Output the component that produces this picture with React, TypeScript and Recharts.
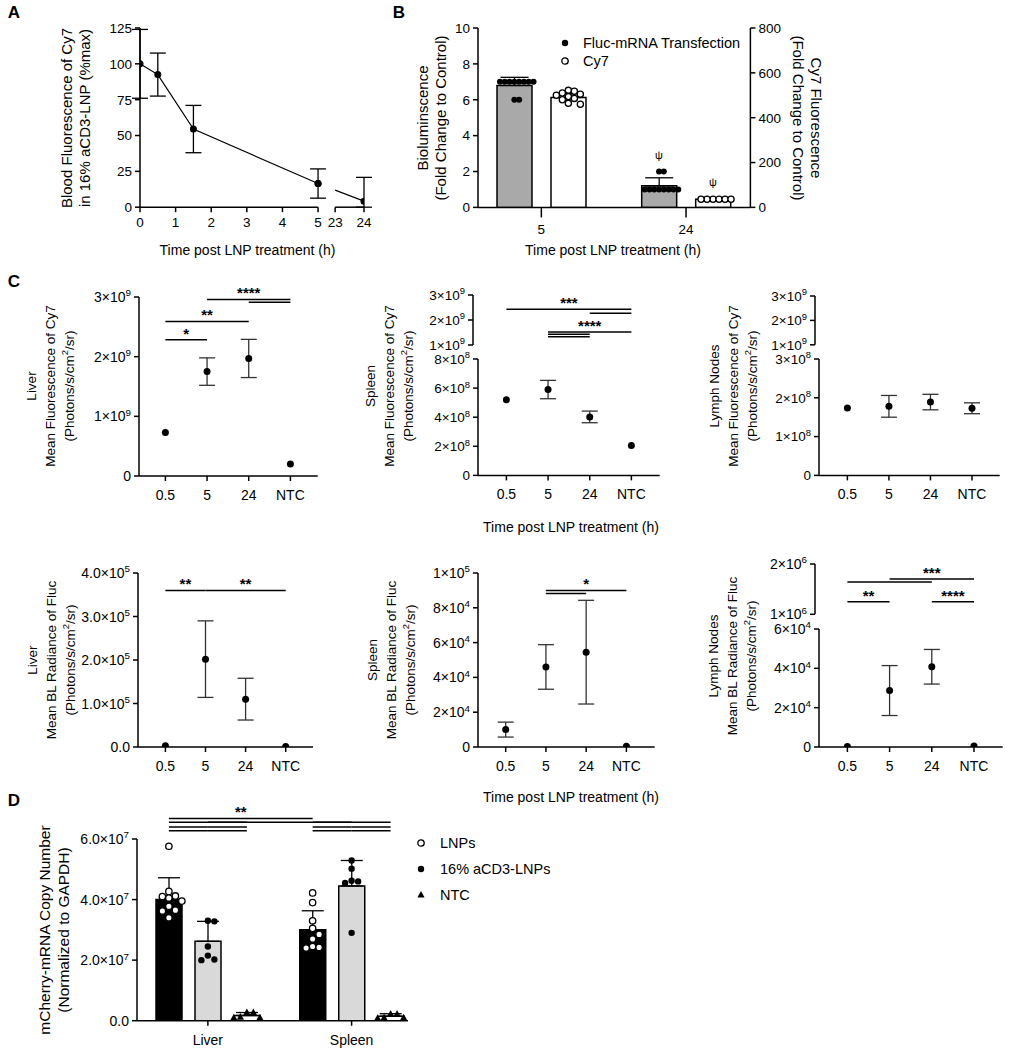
import React from "react";
import {
  LineChart, Line, ComposedChart, Bar, Scatter, XAxis, YAxis, ErrorBar, ReferenceLine,
} from "recharts";

const FONT = "'Liberation Sans', Arial, Helvetica, sans-serif";
const AX = { stroke: "#000", strokeWidth: 1.5 };
const PL = 84, PR = 14, PT = 44, PB = 40;

// ---- A: blood fluorescence over time
const aHours = [0, 0.5, 1.5, 5, 24];
const aMean = [100, 92.5, 54.5, 16.5, 4.2];
const aSD = [24, 15, 16.5, 10.2, 16.6];
const aXTicks = [0, 1, 2, 3, 4, 5, 23, 24];
const aYTicks = [0, 25, 50, 75, 100, 125];

// ---- B: bioluminescence vs Cy7
const bTimes = ["5", "24"];
const bFlucMean = [6.8, 1.2];
const bFlucSD = [0.45, 0.45];
const bCy7Mean = [490, 36];
const bCy7SD = [16, 3];
const bFlucPts = [[7, 7, 7, 7, 7, 7, 7, 7, 6, 6], [1, 1, 1, 1, 1, 1, 1, 1, 2, 2]];
const bCy7Pts = [[522, 518, 510, 505, 500, 494, 486, 480, 464, 460], [36, 36, 36, 36, 36, 36]];
const bSig = ["", "ψ"];
const bLeftTicks = [0, 2, 4, 6, 8, 10];
const bRightTicks = [0, 200, 400, 600, 800];

// ---- C: organ imaging
const cTimes = ["0.5", "5", "24", "NTC"];
const liverCy7 = [0.73e9, 1.75e9, 1.97e9, 0.2e9];
const liverCy7SD = [0, 0.23e9, 0.32e9, 0];
const spleenCy7 = [5.2e8, 5.9e8, 4.02e8, 2.06e8];
const spleenCy7SD = [0, 0.63e8, 0.4e8, 0];
const lymphCy7 = [1.74e8, 1.78e8, 1.89e8, 1.73e8];
const lymphCy7SD = [0, 0.28e8, 0.2e8, 0.14e8];
const liverFluc = [3e3, 2.02e5, 1.1e5, 1e3];
const liverFlucSD = [0, 0.88e5, 0.48e5, 0];
const spleenFluc = [1.0e4, 4.6e4, 5.45e4, 500];
const spleenFlucSD = [0.43e4, 1.28e4, 2.98e4, 0];
const lymphFluc = [300, 2.87e4, 4.08e4, 500];
const lymphFlucSD = [0, 1.27e4, 0.88e4, 0];

type Sig = [number, number, number, string]; // from, to, height, stars
const liverCy7Sig: Sig[] = [[0, 1, 2.285e9, "*"], [0, 2, 2.59e9, "**"], [1, 3, 2.96e9, "****"], [2, 3, 2.91e9, ""]];
const spleenCy7Sig: Sig[] = [[0, 3, 2.43e9, "***"], [2, 3, 2.27e9, ""], [1, 3, 1.52e9, "****"], [1, 2, 1.43e9, ""], [1, 2, 1.33e9, ""]];
const liverFlucSig: Sig[] = [[0, 1, 3.6e5, "**"], [1, 3, 3.6e5, "**"]];
const spleenFlucSig: Sig[] = [[1, 3, 9.0e4, "*"], [1, 2, 8.82e4, ""]];
const lymphFlucSig: Sig[] = [[1, 3, 1.7e6, "***"], [0, 2, 1.64e6, ""], [0, 1, 1.25e6, "**"], [2, 3, 1.25e6, "****"]];

// ---- D: mCherry copy number
const dOrgans = ["Liver", "Spleen"];
const dGroups = ["LNPs", "16% aCD3-LNPs", "NTC"];
const dLnpMean = [4.0e7, 3.0e7];
const dLnpSD = [0.72e7, 0.63e7];
const dCd3Mean = [2.62e7, 4.45e7];
const dCd3SD = [0.66e7, 0.84e7];
const dNtcMean = [0.17e7, 0.15e7];
const dNtcSD = [0.1e7, 0.08e7];
const dLnpPts = [
  [5.76e7, 4.27e7, 4.12e7, 4.1e7, 4.05e7, 3.95e7, 3.78e7, 3.65e7, 3.62e7, 3.4e7],
  [4.22e7, 3.9e7, 3.3e7, 3.05e7, 2.85e7, 2.7e7, 2.45e7, 2.42e7, 2.4e7],
];
const dCd3Pts = [
  [3.3e7, 3.28e7, 2.45e7, 2.15e7, 2.02e7, 2.0e7],
  [5.29e7, 5.02e7, 4.62e7, 4.6e7, 4.55e7, 2.9e7],
];
const dNtcPts = [
  [0.27e7, 0.27e7, 0.12e7, 0.1e7, 0.1e7],
  [0.22e7, 0.22e7, 0.1e7, 0.1e7, 0.08e7],
];
const dYTicks = [0, 2e7, 4e7, 6e7];
const dSigLevels = [6.68e7, 6.55e7, 6.4e7, 6.27e7];
// organA, groupA, organB, groupB, level, stars
const dSig: [number, number, number, number, number, string][] = [
  [0, 0, 1, 0, 0, "**"],
  [0, 0, 0, 2, 1, ""], [0, 1, 1, 1, 1, ""], [1, 0, 1, 2, 1, ""],
  [0, 0, 0, 1, 2, ""], [0, 1, 0, 2, 2, ""], [1, 0, 1, 1, 2, ""], [1, 1, 1, 2, 2, ""],
  [0, 0, 0, 1, 3, ""], [0, 1, 0, 2, 3, ""], [1, 0, 1, 1, 3, ""], [1, 1, 1, 2, 3, ""],
];

// spread dots sideways so they don't sit on top of each other
function swarm(vals: number[], pxPerUnit: number, gap: number): number[] {
  const placed: [number, number][] = [];
  return vals.map((v) => {
    const y = v * pxPerUnit;
    for (let k = 0; k < 60; k++) {
      const x = (k % 2 === 1 ? 1 : -1) * Math.ceil(k / 2) * gap;
      if (placed.every(([px, py]) => Math.hypot(px - x, py - y) >= gap - 0.01)) {
        placed.push([x, y]);
        return x;
      }
    }
    return 0;
  });
}

function YTick(props: any) {
  const { x, y, payload, textAnchor, dec, fs = 14 } = props;
  const v = Number(payload.value);
  let main: string;
  let exp: number | null = null;
  if (dec < 0) main = String(v);
  else if (v === 0) main = (0).toFixed(dec);
  else {
    exp = Math.floor(Math.log10(v) + 1e-9);
    main = (v / 10 ** exp).toFixed(dec) + "×10";
  }
  return (
    <text x={x} y={y} dy={fs * 0.36} textAnchor={textAnchor} fontSize={fs} fill="#000">
      {main}
      {exp !== null && <tspan dy={-fs * 0.4} fontSize={fs * 0.7}>{exp}</tspan>}
    </text>
  );
}

function Txt({ x, y, size = 14, bold = false, rotate = 0, lh = 18, children }: any) {
  return (
    <div style={{
      position: "absolute", left: x, top: y, transform: `translate(-50%,-50%) rotate(${rotate}deg)`,
      fontSize: size, fontWeight: bold ? 700 : 400, whiteSpace: "nowrap", textAlign: "center", lineHeight: `${lh}px`,
    }}>{children}</div>
  );
}

const sup2 = <sup style={{ fontSize: "0.7em", lineHeight: 0 }}>2</sup>;

function sigLabel(s: string) {
  return s ? { value: s, position: "top" as const, offset: 1, fill: "#000", fontSize: 15, fontWeight: 700 } : undefined;
}

// ---------------- A
function PanelA() {
  const A_BREAK = 5.48, A_RIGHT = 0.81;
  const toU = (h: number) => (h <= 5 ? h : A_BREAK + (h - 23) * A_RIGHT);
  const box = { x0: 139.5, x1: 363.5, yT: 28.3, yB: 207.5 };
  const end = toU(24);
  const pxPerU = (box.x1 - box.x0) / end;
  const pxPerY = (box.yB - box.yT) / 125;
  const dx = (end - 5) * pxPerU;
  const dy = (aMean[3] - aMean[4]) * pxPerY;
  const len = Math.hypot(dx, dy);
  const gap = (len * (A_BREAK - 5)) / (end - 5);
  const tickU = aXTicks.map(toU);
  const rows = aHours.map((h, i) => ({
    u: toU(h),
    early: h <= 5 ? aMean[i] : undefined,
    earlyErr: h <= 5 ? aSD[i] : undefined,
    late: h >= 5 ? aMean[i] : undefined,
    lateErr: h > 5 ? [Math.min(aSD[i], aMean[i]), aSD[i]] : undefined,
  }));
  const dot = { r: 3.5, fill: "#000", stroke: "#000", strokeWidth: 0 };
  return (
    <div style={{ position: "absolute", left: box.x0 - PL, top: box.yT - PT }}>
      <LineChart width={box.x1 - box.x0 + PL + PR} height={box.yB - box.yT + PT + PB} data={rows}
        margin={{ top: PT, right: PR, left: 0, bottom: 0 }}>
        <XAxis dataKey="u" type="number" domain={[0, end]} ticks={tickU} interval={0} allowDataOverflow
          tickFormatter={(u: number) => String(aXTicks[tickU.indexOf(u)])}
          axisLine={false} tickLine={AX} tickSize={5} tickMargin={5} height={PB} tick={{ fill: "#000", fontSize: 13.5 }} />
        <YAxis width={PL} domain={[0, 125]} ticks={aYTicks} interval={0} allowDataOverflow axisLine={AX} tickLine={AX}
          tickSize={5} tickMargin={3} tick={(p: any) => <YTick {...p} dec={-1} fs={13.5} />} />
        <ReferenceLine segment={[{ x: 0, y: 0 }, { x: 5, y: 0 }]} stroke="#000" strokeWidth={1.5} ifOverflow="visible" />
        <ReferenceLine segment={[{ x: toU(23), y: 0 }, { x: end, y: 0 }]} stroke="#000" strokeWidth={1.5} ifOverflow="visible" />
        <Line dataKey="early" stroke="#000" strokeWidth={1.2} dot={dot} activeDot={false} isAnimationActive={false}>
          <ErrorBar dataKey="earlyErr" width={8} stroke="#000" strokeWidth={1.3} />
        </Line>
        <Line dataKey="late" stroke="#000" strokeWidth={1.2} strokeDasharray={`0 ${gap} ${len + 10}`} dot={dot}
          activeDot={false} isAnimationActive={false}>
          <ErrorBar dataKey="lateErr" width={8} stroke="#000" strokeWidth={1.3} />
        </Line>
      </LineChart>
    </div>
  );
}

// ---------------- B
function PanelB() {
  const box = { x0: 478.3, x1: 750.7, yT: 28.3, yB: 207.7 };
  const RW = 64;
  const pad = { left: -9, right: -8 };
  const plotH = box.yB - box.yT;
  const pxPerU = (box.x1 - box.x0 - pad.left - pad.right) / 2;
  const barSize = 35, barGap = 19;
  const offU = (barSize + barGap) / 2 / pxPerU;
  const rows = bTimes.map((t, i) => ({
    t, fluc: bFlucMean[i], flucErr: [0, bFlucSD[i]], cy7: bCy7Mean[i], cy7Err: [0, bCy7SD[i]],
  }));
  const place = (sets: number[][], dir: number, pxPerUnit: number, gap: number) =>
    sets.flatMap((vals, i) => {
      const off = swarm(vals, pxPerUnit, gap);
      return vals.map((v, j) => ({ x: i + 1 + dir * offU + off[j] / pxPerU, y: v }));
    });
  const flucPts = place(bFlucPts, -1, plotH / 10, 4.8);
  const cy7Pts = place(bCy7Pts, 1, plotH / 800, 6);
  const flucPsi = bSig.flatMap((s, i) => (s ? [{ x: i + 1 - offU, y: Math.max(...bFlucPts[i], bFlucMean[i] + bFlucSD[i]), s }] : []));
  const cy7Psi = bSig.flatMap((s, i) => (s ? [{ x: i + 1 + offU, y: Math.max(...bCy7Pts[i], bCy7Mean[i] + bCy7SD[i]), s }] : []));
  const psi = (p: any) => (
    <text x={p.cx} y={p.cy - 13} textAnchor="middle" fontSize={11} style={{ fill: "#000" }} fontFamily={FONT}>{p.payload.s}</text>
  );
  return (
    <div style={{ position: "absolute", left: box.x0 - PL, top: box.yT - PT }}>
      <ComposedChart width={box.x1 - box.x0 + PL + RW + PR} height={box.yB - box.yT + PT + PB} data={rows}
        margin={{ top: PT, right: PR, left: 0, bottom: 0 }} barSize={barSize} barGap={barGap}>
        <XAxis xAxisId="c" dataKey="t" padding={pad} interval={0} axisLine={AX} tickLine={AX} tickSize={10} tickMargin={7}
          height={PB} tick={{ fill: "#000", fontSize: 13.5 }} />
        <XAxis xAxisId="n" dataKey="x" type="number" domain={[0.5, 2.5]} allowDataOverflow padding={pad} hide />
        <YAxis yAxisId="L" width={PL} domain={[0, 10]} ticks={bLeftTicks} interval={0} allowDataOverflow axisLine={AX}
          tickLine={AX} tickSize={5} tickMargin={3} tick={(p: any) => <YTick {...p} dec={-1} fs={13.5} />} />
        <YAxis yAxisId="R" orientation="right" width={RW} domain={[0, 800]} ticks={bRightTicks} interval={0} allowDataOverflow
          axisLine={AX} tickLine={AX} tickSize={5} tickMargin={3} tick={(p: any) => <YTick {...p} dec={-1} fs={13.5} />} />
        <Bar xAxisId="c" yAxisId="L" dataKey="fluc" fill="#a9a9a9" stroke="#000" strokeWidth={1.5} isAnimationActive={false}>
          <ErrorBar dataKey="flucErr" width={14} stroke="#000" strokeWidth={1.3} />
        </Bar>
        <Bar xAxisId="c" yAxisId="R" dataKey="cy7" fill="#fff" stroke="#000" strokeWidth={1.5} isAnimationActive={false}>
          <ErrorBar dataKey="cy7Err" width={14} stroke="#000" strokeWidth={1.3} />
        </Bar>
        <Scatter xAxisId="n" yAxisId="L" data={flucPts} dataKey="y" isAnimationActive={false}
          shape={(p: any) => <circle cx={p.cx} cy={p.cy} r={3} fill="#000" />} />
        <Scatter xAxisId="n" yAxisId="R" data={cy7Pts} dataKey="y" isAnimationActive={false}
          shape={(p: any) => <circle cx={p.cx} cy={p.cy} r={3.1} fill="#fff" stroke="#000" strokeWidth={1.3} />} />
        <Scatter xAxisId="n" yAxisId="L" data={flucPsi} dataKey="y" isAnimationActive={false} shape={psi} />
        <Scatter xAxisId="n" yAxisId="R" data={cy7Psi} dataKey="y" isAnimationActive={false} shape={psi} />
      </ComposedChart>
    </div>
  );
}

// ---------------- C
type Seg = { x0: number; x1: number; yT: number; yB: number; padL: number; padR: number; domain: [number, number]; ticks: number[]; dec: number };

function Segment({ seg, mean, sd, sig, base, fs = 14 }: { seg: Seg; mean: number[]; sd: number[]; sig: Sig[]; base: boolean; fs?: number }) {
  const rows = cTimes.map((c, i) => ({ c, m: mean[i], e: sd[i] > 0 ? sd[i] : undefined }));
  return (
    <div style={{ position: "absolute", left: seg.x0 - PL, top: seg.yT - PT }}>
      <LineChart width={seg.x1 - seg.x0 + PL + PR} height={seg.yB - seg.yT + PT + PB} data={rows}
        margin={{ top: PT, right: PR, left: 0, bottom: 0 }}>
        <XAxis dataKey="c" scale="point" interval={0} padding={{ left: seg.padL, right: seg.padR }} height={PB}
          axisLine={base ? AX : false} tickLine={base ? AX : false} tickSize={5} tickMargin={9}
          tick={base ? { fill: "#000", fontSize: 14 } : false} />
        <YAxis width={PL} domain={seg.domain} ticks={seg.ticks} interval={0} allowDataOverflow axisLine={AX} tickLine={AX}
          tickSize={5} tickMargin={3} tick={(p: any) => <YTick {...p} dec={seg.dec} fs={fs} />} />
        {sig.map(([a, b, y, s], k) => (
          <ReferenceLine key={k} segment={[{ x: cTimes[a], y }, { x: cTimes[b], y }]} stroke="#000" strokeWidth={1.5}
            ifOverflow="visible" label={sigLabel(s)} />
        ))}
        <Line dataKey="m" stroke="none" isAnimationActive={false} activeDot={false}
          dot={base ? { r: 3.5, fill: "#000", stroke: "none" } : false}>
          {base && <ErrorBar dataKey="e" width={8} stroke="#333" strokeWidth={1.3} />}
        </Line>
      </LineChart>
    </div>
  );
}

function PanelC() {
  return (
    <>
      {/* Liver Cy7 */}
      <Segment base mean={liverCy7} sd={liverCy7SD} sig={liverCy7Sig}
        seg={{ x0: 139.3, x1: 318, yT: 296.7, yB: 475.7, padL: 26.4, padR: 27.3, domain: [0, 3e9], ticks: [0, 1e9, 2e9, 3e9], dec: 0 }} />
      {/* Spleen Cy7 */}
      <Segment base fs={13.5} mean={spleenCy7} sd={spleenCy7SD} sig={[]}
        seg={{ x0: 478.3, x1: 660, yT: 359.3, yB: 475.7, padL: 28.4, padR: 28.3, domain: [0, 8e8], ticks: [0, 2e8, 4e8, 6e8, 8e8], dec: 0 }} />
      <Segment base={false} fs={13.5} mean={spleenCy7} sd={spleenCy7SD} sig={spleenCy7Sig}
        seg={{ x0: 473.3, x1: 660, yT: 295, yB: 345, padL: 33.4, padR: 28.3, domain: [1e9, 3e9], ticks: [1e9, 2e9, 3e9], dec: 0 }} />
      {/* Lymph nodes Cy7 */}
      <Segment base fs={13.5} mean={lymphCy7} sd={lymphCy7SD} sig={[]}
        seg={{ x0: 819.3, x1: 1000, yT: 359.3, yB: 475.7, padL: 28.4, padR: 27.7, domain: [0, 3e8], ticks: [0, 1e8, 2e8, 3e8], dec: 0 }} />
      <Segment base={false} fs={13.5} mean={lymphCy7} sd={lymphCy7SD} sig={[]}
        seg={{ x0: 814.8, x1: 1000, yT: 296, yB: 344.8, padL: 32.9, padR: 27.7, domain: [1e9, 3e9], ticks: [1e9, 2e9, 3e9], dec: 0 }} />
      {/* Liver Fluc */}
      <Segment base mean={liverFluc} sd={liverFlucSD} sig={liverFlucSig}
        seg={{ x0: 138.3, x1: 313.3, yT: 573.3, yB: 747.3, padL: 27.4, padR: 27.3, domain: [0, 4e5], ticks: [0, 1e5, 2e5, 3e5, 4e5], dec: 1 }} />
      {/* Spleen Fluc */}
      <Segment base mean={spleenFluc} sd={spleenFlucSD} sig={spleenFlucSig}
        seg={{ x0: 478.3, x1: 655, yT: 573.3, yB: 747.3, padL: 27.7, padR: 28.3, domain: [0, 1e5], ticks: [0, 2e4, 4e4, 6e4, 8e4, 1e5], dec: 0 }} />
      {/* Lymph nodes Fluc */}
      <Segment base mean={lymphFluc} sd={lymphFlucSD} sig={[]}
        seg={{ x0: 819.3, x1: 1003, yT: 629.3, yB: 747.3, padL: 28.4, padR: 28.7, domain: [0, 6e4], ticks: [0, 2e4, 4e4, 6e4], dec: 0 }} />
      <Segment base={false} mean={lymphFluc} sd={lymphFlucSD} sig={lymphFlucSig}
        seg={{ x0: 815.3, x1: 1003, yT: 564, yB: 614.3, padL: 32.4, padR: 28.7, domain: [1e6, 2e6], ticks: [1e6, 2e6], dec: 0 }} />
    </>
  );
}

// ---------------- D
function PanelD() {
  const box = { x0: 137, x1: 408, yT: 839.3, yB: 1021 };
  const pad = { left: -1, right: -15.5 };
  const pxPerU = (box.x1 - box.x0 - pad.left - pad.right) / 2;
  const barSize = 26, barGap = 13;
  const stepU = (barSize + barGap) / pxPerU;
  const pxPerUnit = (box.yB - box.yT) / 6e7;
  const uOf = (organ: number, group: number) => organ + 1 + (group - 1) * stepU;
  const rows = dOrgans.map((o, i) => ({
    o, lnp: dLnpMean[i], lnpErr: [0, dLnpSD[i]], cd3: dCd3Mean[i], cd3Err: [0, dCd3SD[i]], ntc: dNtcMean[i], ntcErr: [0, dNtcSD[i]],
  }));
  const place = (sets: number[][], g: number, gap: number) =>
    sets.flatMap((vals, i) => {
      const off = swarm(vals, pxPerUnit, gap);
      return vals.map((v, j) => ({ x: uOf(i, g) + off[j] / pxPerU, y: v }));
    });
  const tri = (p: any) => (
    <path d={`M${p.cx},${p.cy - 4}L${p.cx + 3.6},${p.cy + 2.6}L${p.cx - 3.6},${p.cy + 2.6}Z`} fill="#000" />
  );
  return (
    <div style={{ position: "absolute", left: box.x0 - PL, top: box.yT - PT }}>
      <ComposedChart width={box.x1 - box.x0 + PL + PR} height={box.yB - box.yT + PT + PB} data={rows}
        margin={{ top: PT, right: PR, left: 0, bottom: 0 }} barSize={barSize} barGap={barGap}>
        <XAxis xAxisId="c" dataKey="o" padding={pad} interval={0} axisLine={AX} tickLine={AX} tickSize={5} tickMargin={9}
          height={PB} tick={{ fill: "#000", fontSize: 14 }} />
        <XAxis xAxisId="n" dataKey="x" type="number" domain={[0.5, 2.5]} allowDataOverflow padding={pad} hide />
        <YAxis width={PL} domain={[0, 6e7]} ticks={dYTicks} interval={0} allowDataOverflow axisLine={AX} tickLine={AX}
          tickSize={5} tickMargin={3} tick={(p: any) => <YTick {...p} dec={1} />} />
        <Bar xAxisId="c" dataKey="lnp" fill="#000" stroke="#000" strokeWidth={1.5} isAnimationActive={false}>
          <ErrorBar dataKey="lnpErr" width={11} stroke="#000" strokeWidth={1.3} />
        </Bar>
        <Bar xAxisId="c" dataKey="cd3" fill="#d9d9d9" stroke="#000" strokeWidth={1.5} isAnimationActive={false}>
          <ErrorBar dataKey="cd3Err" width={11} stroke="#000" strokeWidth={1.3} />
        </Bar>
        <Bar xAxisId="c" dataKey="ntc" fill="#fff" stroke="#000" strokeWidth={1.5} isAnimationActive={false}>
          <ErrorBar dataKey="ntcErr" width={11} stroke="#000" strokeWidth={1.3} />
        </Bar>
        <Scatter xAxisId="n" data={place(dLnpPts, 0, 6.5)} dataKey="y" isAnimationActive={false}
          shape={(p: any) => <circle cx={p.cx} cy={p.cy} r={3.2} fill="#fff" stroke="#000" strokeWidth={1.3} />} />
        <Scatter xAxisId="n" data={place(dCd3Pts, 1, 6.5)} dataKey="y" isAnimationActive={false}
          shape={(p: any) => <circle cx={p.cx} cy={p.cy} r={3.2} fill="#000" />} />
        <Scatter xAxisId="n" data={place(dNtcPts, 2, 6.5)} dataKey="y" isAnimationActive={false} shape={tri} />
        {dSig.map(([o1, g1, o2, g2, lv, s], k) => (
          <ReferenceLine key={k} xAxisId="n" segment={[{ x: uOf(o1, g1), y: dSigLevels[lv] }, { x: uOf(o2, g2), y: dSigLevels[lv] }]}
            stroke="#000" strokeWidth={1.5} ifOverflow="visible" label={sigLabel(s)} />
        ))}
      </ComposedChart>
    </div>
  );
}

function Marker({ kind }: { kind: string }) {
  return (
    <svg width={10} height={10} style={{ position: "absolute", left: -5, top: -5 }}>
      {kind === "open" && <circle cx={5} cy={5} r={3.2} fill="#fff" stroke="#000" strokeWidth={1.3} />}
      {kind === "fill" && <circle cx={5} cy={5} r={3.2} fill="#000" />}
      {kind === "tri" && <path d="M5,1L8.6,7.6L1.4,7.6Z" fill="#000" />}
    </svg>
  );
}

function LegendRow({ x, y, tx, kind, label }: any) {
  return (
    <>
      <div style={{ position: "absolute", left: x, top: y }}><Marker kind={kind} /></div>
      <div style={{ position: "absolute", left: tx, top: y - 9, fontSize: 14.5, lineHeight: "18px", whiteSpace: "nowrap" }}>{label}</div>
    </>
  );
}

export default function App() {
  const dKinds = ["open", "fill", "tri"];
  return (
    <div style={{ position: "absolute", left: 0, top: 0, width: 1009, height: 1050, background: "#fff", fontFamily: FONT, color: "#000", overflow: "hidden" }}>
      <Txt x={14} y={13} size={17} bold>A</Txt>
      <Txt x={399} y={13} size={17} bold>B</Txt>
      <Txt x={14} y={282} size={17} bold>C</Txt>
      <Txt x={14} y={801} size={17} bold>D</Txt>

      <PanelA />
      <PanelB />
      <PanelC />
      <PanelD />

      {/* axis titles */}
      <Txt x={76} y={118} rotate={-90} size={15}>Blood Fluorescence of Cy7<br />in 16% aCD3-LNP (%max)</Txt>
      <Txt x={247.5} y={250}>Time post LNP treatment (h)</Txt>
      <Txt x={431.5} y={118} rotate={-90} size={15}>Bioluminscence<br />(Fold Change to Control)</Txt>
      <Txt x={807} y={118} rotate={90} size={15}>Cy7 Fluorescence<br />(Fold Change to Control)</Txt>
      <Txt x={613} y={250}>Time post LNP treatment (h)</Txt>

      <Txt x={50} y={386} rotate={-90} size={13.5} lh={19}>Liver<br />Mean Fluorescence of Cy7<br />(Photons/s/cm{sup2}/sr)</Txt>
      <Txt x={389} y={386} rotate={-90} size={13.5} lh={19}>Spleen<br />Mean Fluorescence of Cy7<br />(Photons/s/cm{sup2}/sr)</Txt>
      <Txt x={733} y={386} rotate={-90} size={13.5} lh={19}>Lymph Nodes<br />Mean Fluorescence of Cy7<br />(Photons/s/cm{sup2}/sr)</Txt>
      <Txt x={571} y={527}>Time post LNP treatment (h)</Txt>

      <Txt x={51} y={660} rotate={-90} size={13.5} lh={19}>Liver<br />Mean BL Radiance of Fluc<br />(Photons/s/cm{sup2}/sr)</Txt>
      <Txt x={391} y={660} rotate={-90} size={13.5} lh={19}>Spleen<br />Mean BL Radiance of Fluc<br />(Photons/s/cm{sup2}/sr)</Txt>
      <Txt x={732} y={656} rotate={-90} size={13.5} lh={19}>Lymph Nodes<br />Mean BL Radiance of Fluc<br />(Photons/s/cm{sup2}/sr)</Txt>
      <Txt x={571} y={797}>Time post LNP treatment (h)</Txt>

      <Txt x={53.5} y={930} rotate={-90} size={15.5} lh={19}>mCherry-mRNA Copy Number<br />(Normalized to GAPDH)</Txt>

      {/* legends */}
      <LegendRow x={565} y={43} tx={583} kind="fill" label="Fluc-mRNA Transfection" />
      <LegendRow x={565} y={61} tx={583} kind="open" label="Cy7" />
      {dGroups.map((g, i) => (
        <LegendRow key={g} x={421} y={843 + i * 26} tx={440} kind={dKinds[i]} label={g} />
      ))}
    </div>
  );
}
